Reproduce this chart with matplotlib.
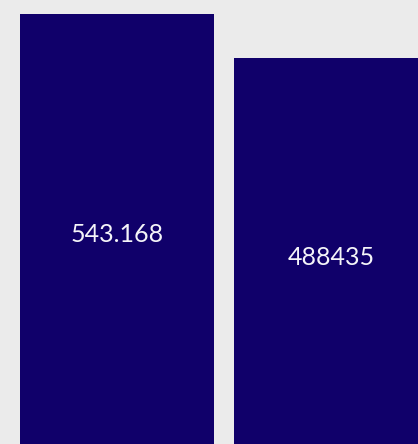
import matplotlib
matplotlib.use("Agg")
import matplotlib.pyplot as plt

categories = ["A", "B"]
values = [543168, 488435]
labels = ["543.168", "488435"]

bar_color = "#10006a"
bg_color = "#ebebeb"

fig = plt.figure(figsize=(4.18, 4.44), dpi=100, facecolor=bg_color)
ax = fig.add_axes([0, 0, 1, 1])
ax.set_facecolor(bg_color)

px_per_unit_x = 214.0
width = 194.0 / px_per_unit_x
x = list(range(len(values)))
bars = ax.bar(x, values, width=width, color=bar_color, edgecolor="none")

left = -width / 2 - 20.0 / px_per_unit_x
ax.set_xlim(left, left + 418.0 / px_per_unit_x)

# y scale
scale = 44.5 / (values[0] - values[1])  # px per unit
zero_px = 14.0 + values[0] * scale
ax.set_ylim((zero_px - 444.0) / scale, zero_px / scale)

for xi, v, lab in zip(x, values, labels):
    ax.text(xi, v / 2, lab, ha="center", va="center", color="#f4f4f8",
            fontsize=18, family=["Lato", "DejaVu Sans"])

ax.axis("off")
fig.savefig("out.png", dpi=100, facecolor=bg_color)
